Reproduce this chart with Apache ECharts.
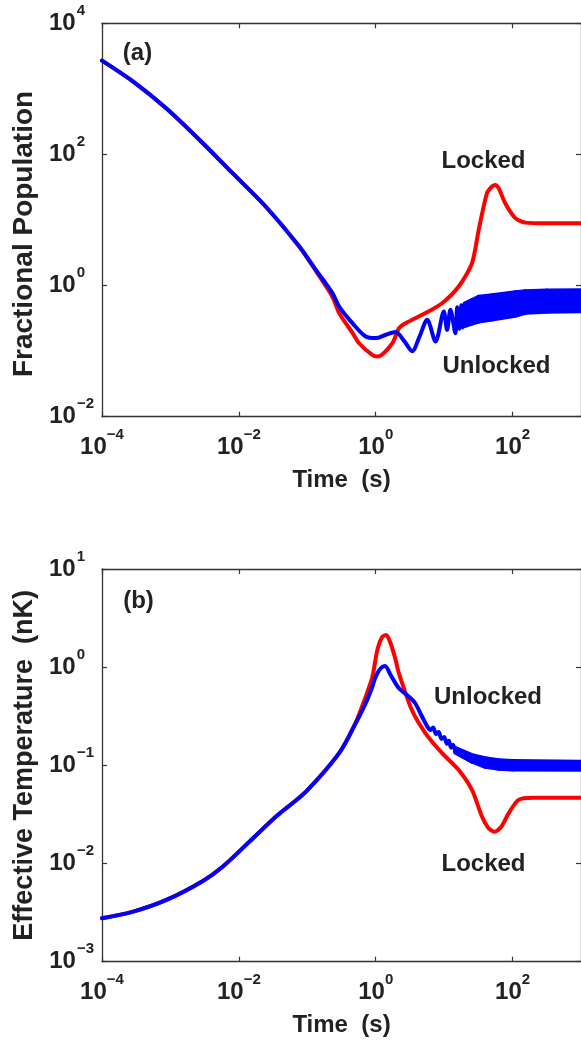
<!DOCTYPE html>
<html><head><meta charset="utf-8">
<script src="https://cdn.jsdelivr.net/npm/echarts@6/dist/echarts.min.js"></script>
<style>html,body{margin:0;padding:0;background:#fff}#c{width:581px;height:1040px}</style>
</head><body><div id="c"></div>
<script>
// ---------- Panel (a): Fractional Population ----------
const popLockedT = [1e-4, 2.86e-4, 8.75e-4, 2.67e-3, 8.17e-3, 0.025, 0.0764, 0.1337, 0.233, 0.292, 0.457, 0.571, 0.891, 1.072, 1.75, 2.188, 2.735, 5.346, 9.333, 16.33, 25.53, 31.99, 42.27, 50.12, 55.98, 63.10, 78.16, 109.6, 153.1, 316.2, 1000];
const popLockedV = [2692, 1288, 501, 166, 51.3, 15.8, 3.94, 1.66, 0.676, 0.380, 0.19, 0.132, 0.0879, 0.0828, 0.132, 0.224, 0.267, 0.380, 0.537, 0.966, 2.19, 7.06, 25.7, 32.4, 34.3, 30.2, 18.0, 10.7, 9.12, 8.91, 8.91];
const popUnlockedT = [1e-4, 2.86e-4, 8.75e-4, 2.67e-3, 8.17e-3, 0.025, 0.0764, 0.1337, 0.233, 0.292, 0.457, 0.714, 1.0, 1.413, 1.95, 2.63, 3.412, 4.365, 5.649, 7.482, 9.886, 11.04, 12.36, 14.62, 15.49, 16.79, 17.78, 18.84, 19.95];
const popUnlockedV = [2692, 1288, 501, 166, 51.3, 15.8, 3.94, 1.73, 0.766, 0.479, 0.267, 0.167, 0.158, 0.178, 0.195, 0.141, 0.100, 0.166, 0.302, 0.140, 0.402, 0.211, 0.427, 0.188, 0.468, 0.219, 0.501, 0.229, 0.525];
// dense oscillation band of the unlocked curve (upper / lower extremes)
const popBandT  = [19.95, 25.53, 31.99, 50.12, 109.6, 153.1, 316.2, 1000];
const popBandHi = [0.530, 0.603, 0.676, 0.714, 0.794, 0.822, 0.841, 0.851];
const popBandLo = [0.240, 0.263, 0.282, 0.303, 0.347, 0.384, 0.398, 0.407];

// ---------- Panel (b): Effective Temperature (nK) ----------
const tempLockedT = [1e-4, 2.86e-4, 8.75e-4, 2.985e-3, 5.848e-3, 0.01429, 0.03499, 0.0957, 0.292, 0.512, 0.714, 0.893, 1.057, 1.250, 1.429, 1.652, 1.954, 2.183, 3.381, 5.346, 9.333, 16.33, 25.53, 35.73, 44.67, 54.70, 67.6, 87.50, 122.2, 199.5, 1000];
const tempLockedV = [0.00277, 0.00324, 0.00426, 0.00665, 0.00933, 0.0167, 0.0301, 0.0541, 0.133, 0.275, 0.501, 0.794, 1.496, 2.04, 2.128, 1.750, 1.183, 0.867, 0.366, 0.212, 0.133, 0.0897, 0.0562, 0.0301, 0.0229, 0.0211, 0.0234, 0.0324, 0.0445, 0.0468, 0.0468];
const tempUnlockedT = [1e-4, 2.86e-4, 8.75e-4, 2.985e-3, 5.848e-3, 0.01429, 0.03499, 0.0957, 0.292, 0.512, 0.714, 0.893, 1.0, 1.183, 1.368, 1.652, 2.183, 3.055, 3.776, 4.732, 5.623, 6.310, 6.918, 7.586, 8.318, 9.120, 10.0, 10.96, 11.75, 12.59, 13.49, 14.45];
const tempUnlockedV = [0.00277, 0.00324, 0.00426, 0.00665, 0.00933, 0.0167, 0.0301, 0.0541, 0.133, 0.269, 0.429, 0.633, 0.80, 0.975, 1.028, 0.832, 0.610, 0.501, 0.429, 0.316, 0.251, 0.229, 0.243, 0.209, 0.219, 0.186, 0.195, 0.166, 0.178, 0.151, 0.162, 0.141];
const tempBandT  = [14.45, 25.53, 39.81, 63.10, 100, 1000];
const tempBandHi = [0.151, 0.127, 0.118, 0.113, 0.111, 0.109];
const tempBandLo = [0.135, 0.109, 0.0965, 0.0925, 0.0905, 0.0900];

// ---------- Tick values ----------
const xTicks  = [1e-4, 1e-2, 1, 100];
const yTicksA = [1e-2, 1, 100, 1e4];
const yTicksB = [1e-3, 1e-2, 1e-1, 1, 10];

const FONT = 'Liberation Sans, Arial, Helvetica, sans-serif';
const TXT = '#222222';
const AX = '#333333';
const RED = '#ff0000', BLUE = '#0000ff';

function expLabel(v) {
  const e = Math.round(Math.log10(v));
  return e < 0 ? '{b|10}{e|\u2212' + (-e) + '}' : '{b|10}{p|' + e + '}';
}
const richX = {
  b: {fontSize: 24, fontWeight: 'bold', fontFamily: FONT, color: TXT, lineHeight: 24},
  e: {fontSize: 15, fontWeight: 'bold', fontFamily: FONT, color: TXT, lineHeight: 15, padding: [0, 0, 25, 0]},
  p: {fontSize: 15, fontWeight: 'bold', fontFamily: FONT, color: TXT, lineHeight: 15, padding: [0, 0, 25, 0]}
};
const richY = {
  b: {fontSize: 24, fontWeight: 'bold', fontFamily: FONT, color: TXT, lineHeight: 24},
  e: {fontSize: 15, fontWeight: 'bold', fontFamily: FONT, color: TXT, lineHeight: 15, padding: [0, 0, 25, 1]},
  p: {fontSize: 15, fontWeight: 'bold', fontFamily: FONT, color: TXT, lineHeight: 15, padding: [0, 9, 25, 1]}
};
const nameStyle = (fs, pad) => ({fontSize: fs, fontWeight: 'bold', fontFamily: FONT, color: TXT, padding: pad || 0});

function xAx(grid, pos, show) {
  return {
    type: 'log', logBase: 10, gridIndex: grid, position: pos, min: 1e-4, max: 1e3,
    axisLine: {show: true, onZero: false, lineStyle: {color: AX, width: 1.3}},
    axisTick: {show: true, inside: true, length: 5, customValues: xTicks, lineStyle: {color: AX, width: 1.2}},
    axisLabel: show ? {show: true, customValues: xTicks, formatter: expLabel, rich: richX, margin: 19} : {show: false},
    splitLine: {show: false}, minorTick: {show: false},
    name: show ? 'Time  (s)' : '', nameLocation: 'middle', nameGap: 47, nameTextStyle: nameStyle(24)
  };
}
function yAx(grid, pos, show, min, max, ticks, name, fs, pad) {
  return {
    type: 'log', logBase: 10, gridIndex: grid, position: pos, min: min, max: max,
    axisLine: {show: true, onZero: false, lineStyle: {color: AX, width: 1.3}},
    axisTick: {show: true, inside: true, length: 5, customValues: ticks, lineStyle: {color: AX, width: 1.2}},
    axisLabel: show ? {show: true, customValues: ticks, formatter: expLabel, rich: richY, margin: 8} : {show: false},
    splitLine: {show: false}, minorTick: {show: false},
    name: show ? name : '', nameLocation: 'middle', nameGap: 64, nameTextStyle: nameStyle(fs || 27, pad)
  };
}
function lineS(T, V, color, xi, yi, z, smooth) {
  return {type: 'line', xAxisIndex: xi, yAxisIndex: yi, z: z, data: T.map((t, i) => [t, V[i]]),
    showSymbol: false, symbol: 'none', smooth: smooth, clip: true,
    lineStyle: {color: color, width: 4, cap: 'round', join: 'round'}, itemStyle: {color: color}, silent: true};
}
function bandS(T, Hi, Lo, xi, yi, z) {
  return {type: 'custom', xAxisIndex: xi, yAxisIndex: yi, z: z, clip: true, silent: true,
    data: T.map((t, i) => [t, Hi[i], Lo[i]]),
    encode: {x: 0, y: [1, 2]},
    renderItem: function (params, api) {
      const i = params.dataIndex;
      if (i >= T.length - 1) return null;
      const pts = [api.coord([T[i], Hi[i]]), api.coord([T[i + 1], Hi[i + 1]]),
                   api.coord([T[i + 1], Lo[i + 1]]), api.coord([T[i], Lo[i]])];
      return {type: 'polygon', shape: {points: pts},
        style: {fill: BLUE, stroke: BLUE, lineWidth: 4, lineJoin: 'round'}};
    }};
}

const chart = echarts.init(document.getElementById('c'), null, {renderer: 'canvas'});
chart.setOption({
  animation: false,
  backgroundColor: '#ffffff',
  grid: [
    {left: 102, top: 23.3, width: 481, height: 393.4},
    {left: 102, top: 569, width: 481, height: 392.7}
  ],
  xAxis: [xAx(0, 'bottom', true), xAx(0, 'top', false), xAx(1, 'bottom', true), xAx(1, 'top', false)],
  yAxis: [
    yAx(0, 'left', true, 1e-2, 1e4, yTicksA, 'Fractional Population', 28, [0, 28, 0, 0]),
    yAx(0, 'right', false, 1e-2, 1e4, yTicksA, ''),
    yAx(1, 'left', true, 1e-3, 10, yTicksB, 'Effective Temperature  (nK)', 27),
    yAx(1, 'right', false, 1e-3, 10, yTicksB, '')
  ],
  series: [
    lineS(popLockedT, popLockedV, RED, 0, 0, 3, 0.25),
    lineS(popUnlockedT, popUnlockedV, BLUE, 0, 0, 4, 0.3),
    bandS(popBandT, popBandHi, popBandLo, 0, 0, 4),
    lineS(tempLockedT, tempLockedV, RED, 2, 2, 3, 0.25),
    lineS(tempUnlockedT, tempUnlockedV, BLUE, 2, 2, 4, 0.3),
    bandS(tempBandT, tempBandHi, tempBandLo, 2, 2, 4)
  ],
  graphic: [
    {type: 'text', x: 137.5, y: 53, style: {text: '(a)', font: 'bold 24px ' + FONT, fill: TXT, align: 'center', verticalAlign: 'middle'}},
    {type: 'text', x: 483.5, y: 161, style: {text: 'Locked', font: 'bold 24px ' + FONT, fill: TXT, align: 'center', verticalAlign: 'middle'}},
    {type: 'text', x: 496.5, y: 366.5, style: {text: 'Unlocked', font: 'bold 24px ' + FONT, fill: TXT, align: 'center', verticalAlign: 'middle'}},
    {type: 'text', x: 138.5, y: 601, style: {text: '(b)', font: 'bold 24px ' + FONT, fill: TXT, align: 'center', verticalAlign: 'middle'}},
    {type: 'text', x: 488, y: 697, style: {text: 'Unlocked', font: 'bold 24px ' + FONT, fill: TXT, align: 'center', verticalAlign: 'middle'}},
    {type: 'text', x: 483.5, y: 864.5, style: {text: 'Locked', font: 'bold 24px ' + FONT, fill: TXT, align: 'center', verticalAlign: 'middle'}}
  ]
});
</script></body></html>
